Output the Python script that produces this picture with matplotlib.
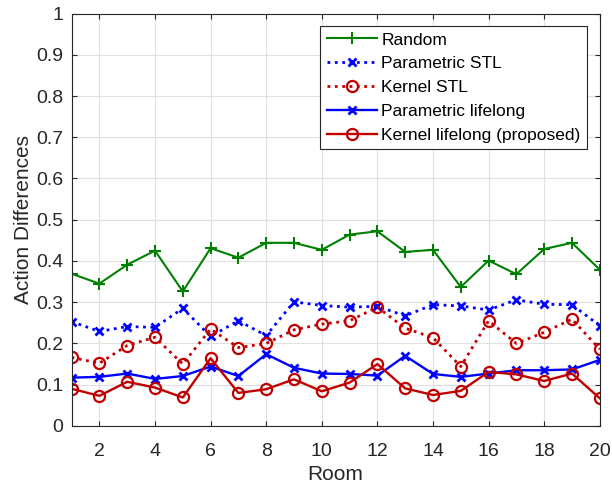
import matplotlib.pyplot as plt

plt.rcParams['font.family'] = ['Liberation Sans', 'DejaVu Sans']

rooms = list(range(1, 21))
random_vals = [0.369, 0.345, 0.391, 0.425, 0.326, 0.431, 0.408, 0.444, 0.444, 0.427,
               0.464, 0.472, 0.422, 0.427, 0.337, 0.401, 0.368, 0.429, 0.444, 0.379]
param_stl = [0.253, 0.229, 0.241, 0.239, 0.285, 0.217, 0.255, 0.219, 0.301, 0.292,
             0.288, 0.290, 0.267, 0.294, 0.291, 0.281, 0.306, 0.295, 0.294, 0.243]
kernel_stl = [0.166, 0.152, 0.195, 0.215, 0.150, 0.235, 0.190, 0.200, 0.233, 0.247,
              0.255, 0.288, 0.237, 0.214, 0.144, 0.255, 0.200, 0.227, 0.259, 0.186]
param_lifelong = [0.117, 0.119, 0.127, 0.114, 0.121, 0.144, 0.121, 0.174, 0.141, 0.127,
                  0.126, 0.122, 0.170, 0.126, 0.119, 0.127, 0.135, 0.135, 0.137, 0.160]
kernel_lifelong = [0.090, 0.073, 0.107, 0.093, 0.069, 0.164, 0.080, 0.089, 0.113, 0.084,
                   0.105, 0.150, 0.091, 0.075, 0.085, 0.131, 0.125, 0.109, 0.127, 0.067]

green = '#008000'
blue = '#0000ff'
red = '#c00000'
axcol = '#262626'

fig = plt.figure(figsize=(6.12, 4.84), dpi=100)
ax = fig.add_axes([0.117, 0.12, 0.863, 0.852])

ax.plot(rooms, random_vals, '-', color=green, marker='+', ms=8, mew=1.5, lw=1.5, label='Random')
ax.plot(rooms, param_stl, ':', color=blue, marker='x', ms=6, mew=2, lw=2, label='Parametric STL')
ax.plot(rooms, kernel_stl, ':', color=red, marker='o', ms=8, mew=1.6, mfc='none', lw=2, label='Kernel STL')
ax.plot(rooms, param_lifelong, '-', color=blue, marker='x', ms=6, mew=2, lw=1.7, label='Parametric lifelong')
ax.plot(rooms, kernel_lifelong, '-', color=red, marker='o', ms=8, mew=1.6, mfc='none', lw=1.7,
        label='Kernel lifelong (proposed)')

ax.set_xlim(1, 20)
ax.set_ylim(0, 1)
ax.set_xticks(range(2, 21, 2))
ax.set_yticks([i / 10 for i in range(11)])
ax.set_yticklabels(['0'] + [f'{i / 10:g}' for i in range(1, 10)] + ['1'])
ax.grid(True, color='#e0e0e0', lw=0.8)
ax.set_axisbelow(True)
for s in ax.spines.values():
    s.set_color(axcol)
    s.set_linewidth(0.8)
ax.tick_params(direction='in', colors=axcol, labelsize=14, length=3.5, width=0.8,
               top=True, right=True, labeltop=False, labelright=False)
ax.tick_params(axis='x', pad=12)
ax.tick_params(axis='y', pad=6)
ax.set_xlabel('Room', fontsize=15, color=axcol, labelpad=4)
ax.set_ylabel('Action Differences', fontsize=15, color=axcol, labelpad=2)

leg = ax.legend(loc='upper right', bbox_to_anchor=(0.975, 0.969), fontsize=12.5, fancybox=False,
                framealpha=1, edgecolor=axcol, borderpad=0.35, labelspacing=0.5,
                handlelength=2.9, handletextpad=0.25, borderaxespad=0)
leg.get_frame().set_linewidth(0.8)

fig.savefig('out.png', dpi=100)
